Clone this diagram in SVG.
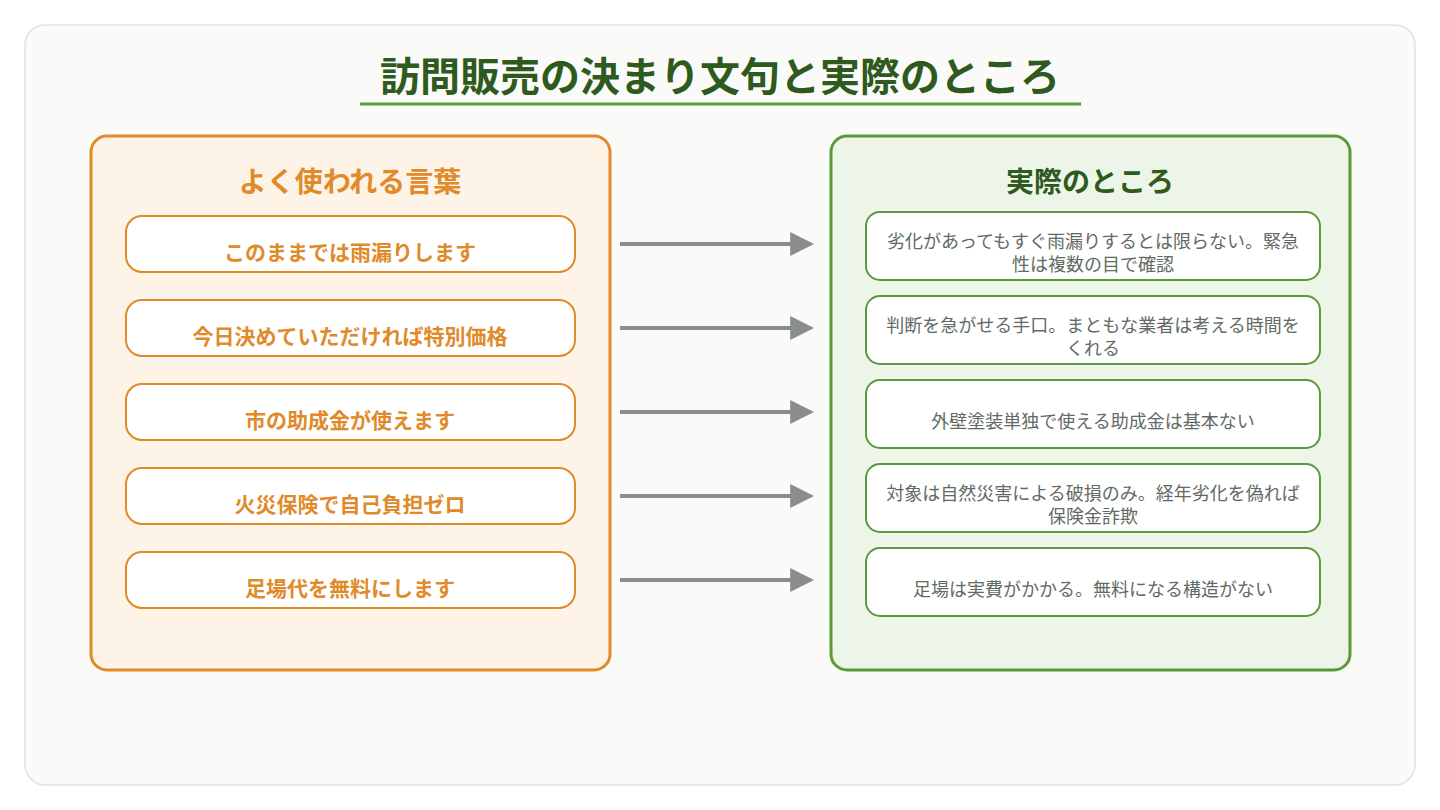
<svg xmlns="http://www.w3.org/2000/svg" width="1440" height="810" viewBox="0 0 1440 810">
<defs>
<marker id="ah" markerWidth="6" markerHeight="6" refX="5.2" refY="3" orient="auto" markerUnits="strokeWidth">
<path d="M0,0 L6,3 L0,6 Z" fill="#8a8e8a"/>
</marker>
<style>
text{font-family:"Noto Sans CJK JP","Noto Sans",sans-serif;text-anchor:middle;dominant-baseline:central}
.title{font-size:40px;font-weight:700;fill:#2e5a1e}
.lh{font-size:28px;font-weight:700;fill:#e08a2a}
.rh{font-size:28px;font-weight:700;fill:#2e5a1e}
.lbox{fill:#ffffff;stroke:#e08a2a;stroke-width:2}
.rbox{fill:#ffffff;stroke:#5a9a3a;stroke-width:2}
.lt{font-size:21px;font-weight:700;fill:#e08a2a}
.rt{font-size:18px;fill:#5f6b63}
.conn{stroke:#8a8e8a;stroke-width:4;fill:none}
</style>
</defs>
<rect x="25" y="25" width="1390" height="760" rx="20" fill="#fafaf8" stroke="#e2e2da" stroke-width="1.5"/>
<g id="title">
<text class="title" x="720" y="74">訪問販売の決まり文句と実際のところ</text>
<line x1="360" y1="104" x2="1081" y2="104" stroke="#5a9a3a" stroke-width="3"/>
</g>
<g id="left-panel">
<rect x="91" y="136" width="519" height="534" rx="16" fill="#fdf3e6" stroke="#e08a2a" stroke-width="3"/>
<text class="lh" x="350" y="180">よく使われる言葉</text>
</g>
<g id="right-panel">
<rect x="831" y="136" width="519" height="534" rx="16" fill="#edf5e8" stroke="#5a9a3a" stroke-width="3"/>
<text class="rh" x="1090" y="180">実際のところ</text>
</g>
<g id="l1"><rect class="lbox" x="126" y="216" width="449" height="56" rx="16"/><text class="lt" x="350" y="251">このままでは雨漏りします</text></g>
<g id="l2"><rect class="lbox" x="126" y="300" width="449" height="56" rx="16"/><text class="lt" x="350" y="335">今日決めていただければ特別価格</text></g>
<g id="l3"><rect class="lbox" x="126" y="384" width="449" height="56" rx="16"/><text class="lt" x="350" y="419">市の助成金が使えます</text></g>
<g id="l4"><rect class="lbox" x="126" y="468" width="449" height="56" rx="16"/><text class="lt" x="350" y="503">火災保険で自己負担ゼロ</text></g>
<g id="l5"><rect class="lbox" x="126" y="552" width="449" height="56" rx="16"/><text class="lt" x="350" y="587">足場代を無料にします</text></g>
<g id="r1"><rect class="rbox" x="866" y="212" width="454" height="68" rx="14"/><text class="rt" y="240"><tspan x="1093">劣化があってもすぐ雨漏りするとは限らない。緊急</tspan><tspan x="1093" dy="23">性は複数の目で確認</tspan></text></g>
<g id="r2"><rect class="rbox" x="866" y="296" width="454" height="68" rx="14"/><text class="rt" y="324"><tspan x="1093">判断を急がせる手口。まともな業者は考える時間を</tspan><tspan x="1093" dy="23">くれる</tspan></text></g>
<g id="r3"><rect class="rbox" x="866" y="380" width="454" height="68" rx="14"/><text class="rt" x="1093" y="420">外壁塗装単独で使える助成金は基本ない</text></g>
<g id="r4"><rect class="rbox" x="866" y="464" width="454" height="68" rx="14"/><text class="rt" y="492"><tspan x="1093">対象は自然災害による破損のみ。経年劣化を偽れば</tspan><tspan x="1093" dy="23">保険金詐欺</tspan></text></g>
<g id="r5"><rect class="rbox" x="866" y="548" width="454" height="68" rx="14"/><text class="rt" x="1093" y="588">足場は実費がかかる。無料になる構造がない</text></g>
<g id="connectors">
<line class="conn" x1="620" y1="244" x2="811" y2="244" marker-end="url(#ah)"/>
<line class="conn" x1="620" y1="328" x2="811" y2="328" marker-end="url(#ah)"/>
<line class="conn" x1="620" y1="412" x2="811" y2="412" marker-end="url(#ah)"/>
<line class="conn" x1="620" y1="496" x2="811" y2="496" marker-end="url(#ah)"/>
<line class="conn" x1="620" y1="580" x2="811" y2="580" marker-end="url(#ah)"/>
</g>
</svg>
